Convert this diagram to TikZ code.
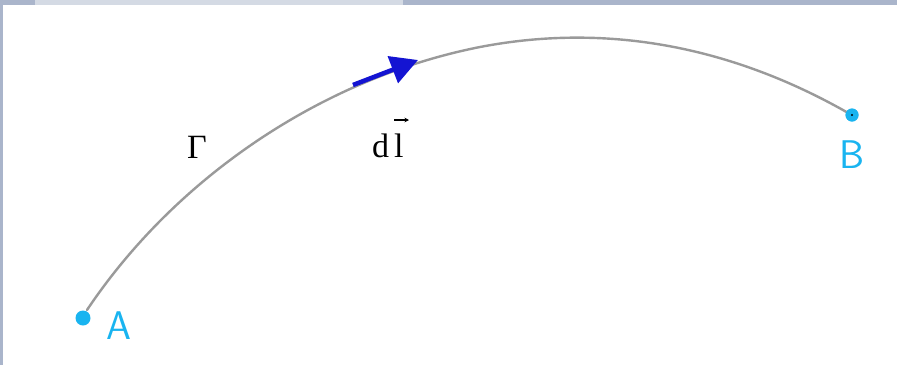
\documentclass[tikz,border=0pt]{standalone}
\usepackage{fontspec}
\setmainfont{Liberation Serif}
\usetikzlibrary{arrows.meta}
\definecolor{framec}{HTML}{AAB5CB}
\definecolor{framel}{HTML}{D4DAE4}
\definecolor{handc}{HTML}{19B4F0}
\definecolor{pathc}{HTML}{9A9A9A}
\definecolor{arrc}{HTML}{1414D2}
\tikzset{
  curvepath/.style={draw=pathc, line width=2.4pt, line cap=round},
  endpt/.style={circle, fill=handc, inner sep=0pt, minimum size=13pt},
  handlabel/.style={text=handc, font=\sffamily\fontsize{40}{40}\selectfont, inner sep=0pt},
  mathlabel/.style={font=\fontsize{34}{34}\selectfont, inner sep=0pt},
  vecarrow/.style={draw=arrc, line width=4.5pt, -{Triangle[length=27pt,width=28pt]}}
}
\begin{document}
\begin{tikzpicture}[x=1pt,y=-1pt]
\useasboundingbox (0,0) rectangle (897,365);
\fill[white] (0,0) rectangle (897,365);
% frame
\fill[framec] (0,0) rectangle (897,5);
\fill[framel] (35,0) rectangle (403,5);
\fill[framec] (0,0) rectangle (3,365);
% endpoints
\node[endpt, minimum size=15pt] (A) at (83,318) {};
\node[endpt] (B) at (852,115) {};
% curve
\coordinate (cA) at (87,310);
\coordinate (cM) at (480,47);
\coordinate (cB) at (850,114);
\draw[curvepath] (cA) .. controls (176,177) and (323,78) .. (cM)
                      .. controls (610,22) and (735,48) .. (cB);
\node[endpt] at (B) {};
\fill[black] (B.center) circle (1.2pt);
% labels
\node[handlabel] (LA) at (119,326) {A};
\node[handlabel] (LB) at (852,155) {B};
\node[mathlabel, anchor=base] (G) at (197,158) {Γ};
\node[mathlabel, anchor=base west] (dl) at (372,157) {d\kern 5pt l};
\coordinate (lv0) at (394,120);
\coordinate (lv1) at (409,120);
\draw[line width=1.3pt, -{Stealth[length=4.5pt,width=4.5pt]}] (lv0) -- (lv1);
% vector element
\coordinate (v0) at (353,85);
\coordinate (v1) at (418,60);
\draw[vecarrow] (v0) -- (v1);
\end{tikzpicture}
\end{document}
